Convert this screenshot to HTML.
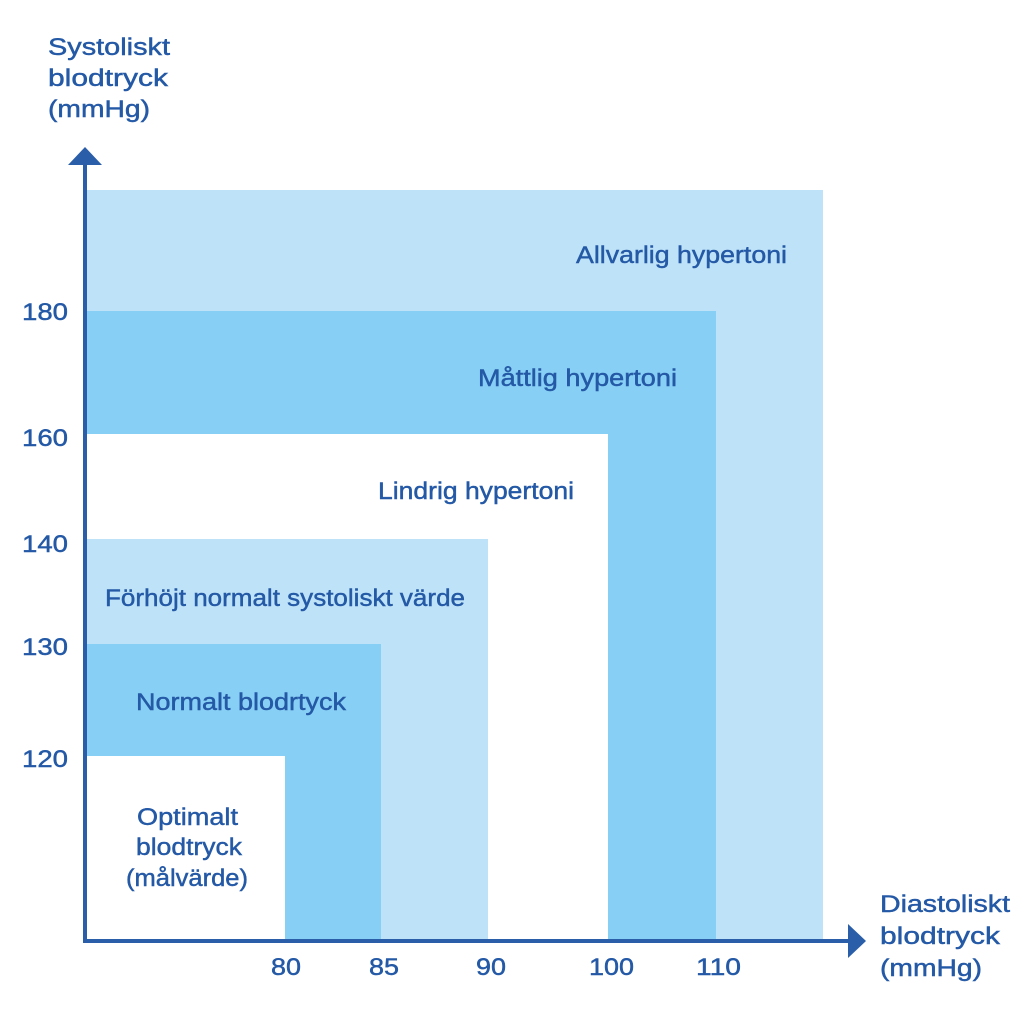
<!DOCTYPE html>
<html><head><meta charset="utf-8"><style>
html,body{margin:0;padding:0;background:#fff;}
svg text{font-family:"Liberation Sans",sans-serif;fill:#2459a6;font-size:24px;stroke:#2459a6;stroke-width:0.45;}
</style></head><body>
<svg width="1024" height="1024" viewBox="0 0 1024 1024" xmlns="http://www.w3.org/2000/svg">
<rect x="86" y="190" width="737" height="750" fill="#bee3f8"/>
<rect x="86" y="311" width="630" height="629" fill="#87cff5"/>
<rect x="86" y="434" width="522" height="506" fill="#ffffff"/>
<rect x="86" y="539" width="402" height="401" fill="#bee3f8"/>
<rect x="86" y="644" width="295" height="296" fill="#87cff5"/>
<rect x="86" y="756" width="199" height="184" fill="#ffffff"/>
<line x1="85" y1="162" x2="85" y2="942" stroke="#2a5ea8" stroke-width="4"/>
<polygon points="85,147 68,165 102,165" fill="#2a5ea8"/>
<line x1="83" y1="941" x2="852" y2="941" stroke="#2a5ea8" stroke-width="4"/>
<polygon points="866,941 848,924 848,958" fill="#2a5ea8"/>
<g lengthAdjust="spacingAndGlyphs">
<text x="48" y="55" textLength="122" lengthAdjust="spacingAndGlyphs">Systoliskt</text>
<text x="48" y="86" textLength="120" lengthAdjust="spacingAndGlyphs">blodtryck</text>
<text x="48" y="117" textLength="102" lengthAdjust="spacingAndGlyphs">(mmHg)</text>
<text x="880" y="912" textLength="130" lengthAdjust="spacingAndGlyphs">Diastoliskt</text>
<text x="880" y="944" textLength="120" lengthAdjust="spacingAndGlyphs">blodtryck</text>
<text x="880" y="976" textLength="102" lengthAdjust="spacingAndGlyphs">(mmHg)</text>
<text x="22" y="320" textLength="46" lengthAdjust="spacingAndGlyphs">180</text>
<text x="22" y="446" textLength="46" lengthAdjust="spacingAndGlyphs">160</text>
<text x="22" y="552" textLength="46" lengthAdjust="spacingAndGlyphs">140</text>
<text x="22" y="655" textLength="46" lengthAdjust="spacingAndGlyphs">130</text>
<text x="22" y="767" textLength="46" lengthAdjust="spacingAndGlyphs">120</text>
<text x="271" y="975" textLength="30" lengthAdjust="spacingAndGlyphs">80</text>
<text x="369" y="975" textLength="30" lengthAdjust="spacingAndGlyphs">85</text>
<text x="476" y="975" textLength="30" lengthAdjust="spacingAndGlyphs">90</text>
<text x="589" y="975" textLength="45" lengthAdjust="spacingAndGlyphs">100</text>
<text x="696" y="975" textLength="45" lengthAdjust="spacingAndGlyphs">110</text>
<text x="576" y="263" textLength="211" lengthAdjust="spacingAndGlyphs">Allvarlig hypertoni</text>
<text x="478" y="386" textLength="199" lengthAdjust="spacingAndGlyphs">Måttlig hypertoni</text>
<text x="378" y="499" textLength="196" lengthAdjust="spacingAndGlyphs">Lindrig hypertoni</text>
<text x="105" y="606" textLength="360" lengthAdjust="spacingAndGlyphs">Förhöjt normalt systoliskt värde</text>
<text x="136" y="710" textLength="210" lengthAdjust="spacingAndGlyphs">Normalt blodrtyck</text>
<text x="137" y="825" textLength="101" lengthAdjust="spacingAndGlyphs">Optimalt</text>
<text x="136" y="855" textLength="106" lengthAdjust="spacingAndGlyphs">blodtryck</text>
<text x="126" y="886" textLength="122" lengthAdjust="spacingAndGlyphs">(målvärde)</text>
</g>
</svg>
</body></html>
